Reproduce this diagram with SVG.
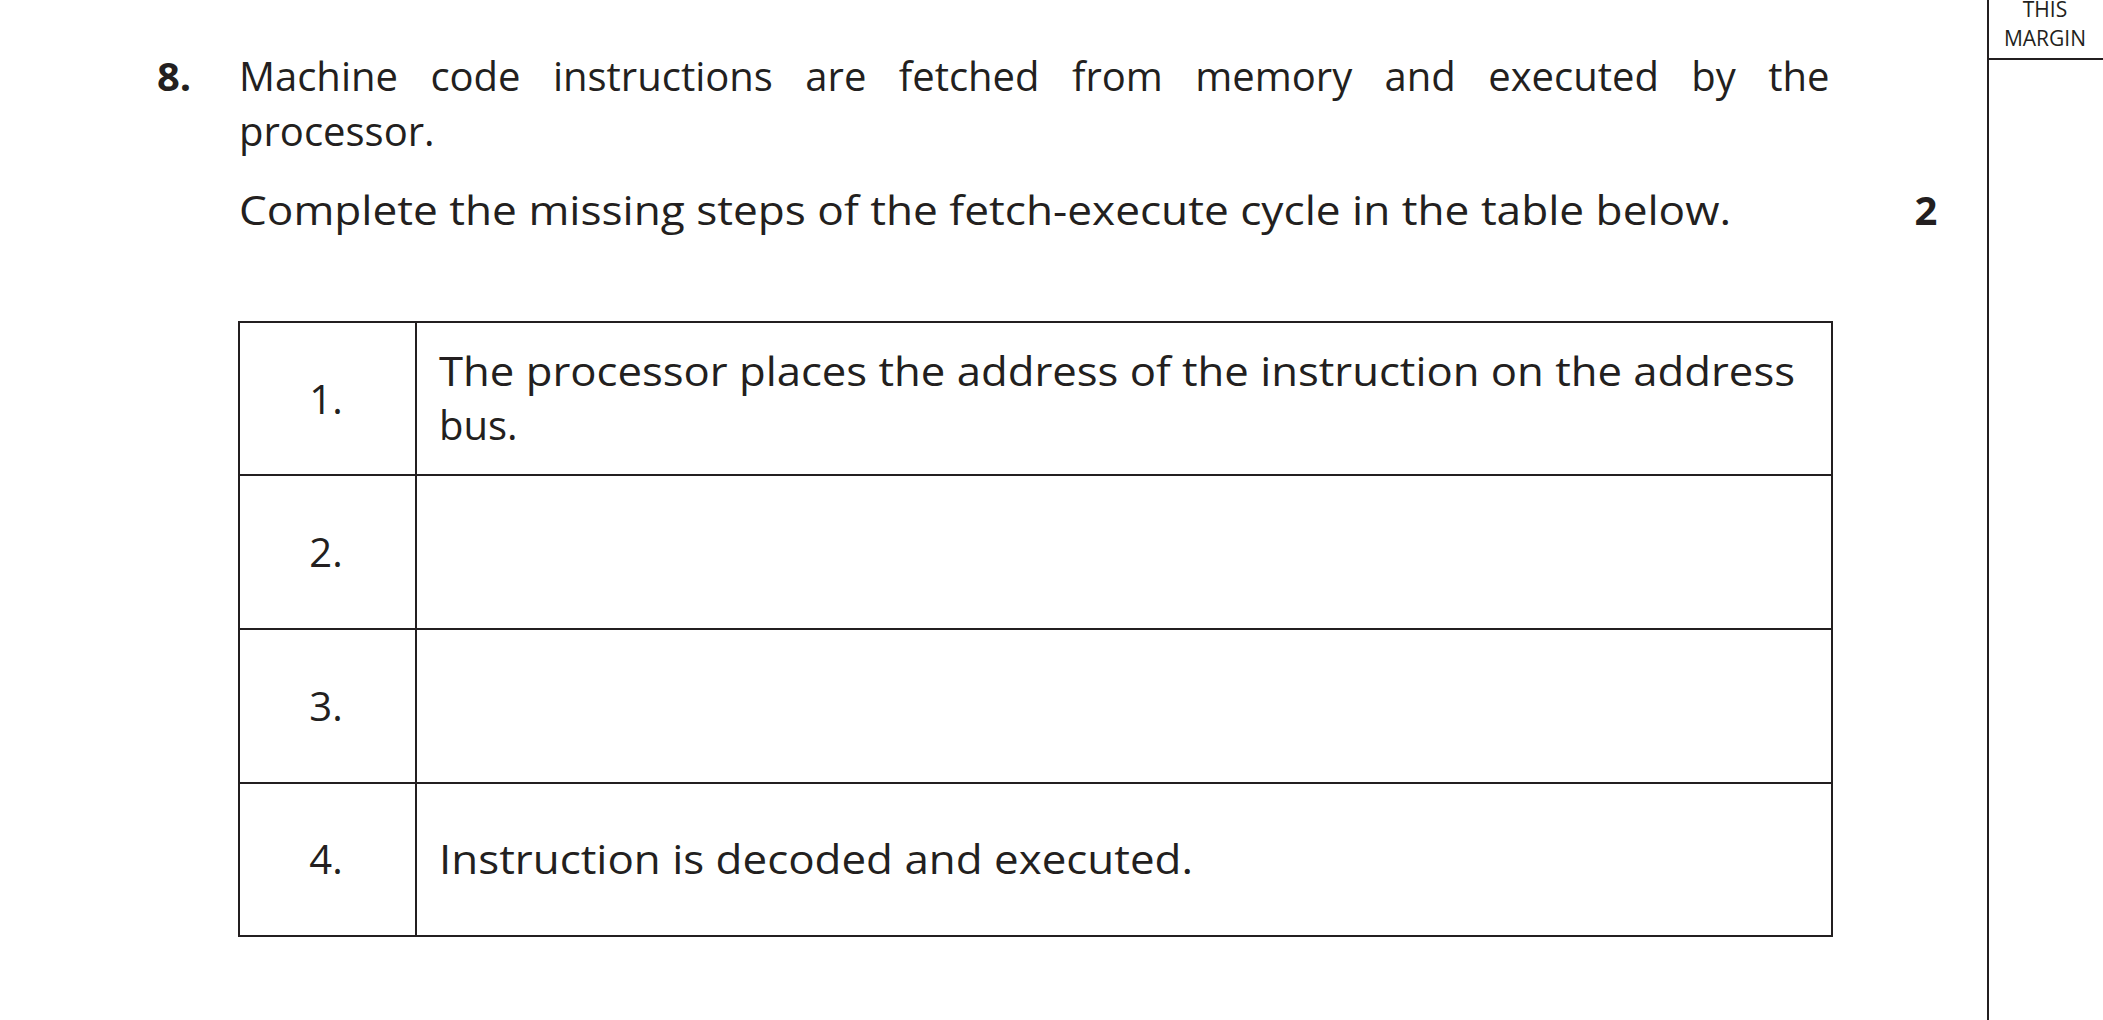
<svg xmlns="http://www.w3.org/2000/svg" width="2103" height="1020" viewBox="0 0 2103 1020">
<style>
text{font-family:"Open Sans","DejaVu Sans",sans-serif;fill:#231f20;font-size:40px}
.b{font-weight:bold}
.s{font-size:21px}
.c{text-anchor:middle}
.ln{stroke:#231f20;stroke-width:2;fill:none}
</style>
<rect x="0" y="0" width="2103" height="1020" fill="#fff"/>
<g id="margin">
<line class="ln" x1="1988" y1="0" x2="1988" y2="1020"/>
<line class="ln" x1="1988" y1="59" x2="2103" y2="59"/>
<text class="s c" x="2045" y="17">THIS</text>
<text class="s c" x="2045" y="46">MARGIN</text>
</g>
<g id="question">
<text class="b" x="157" y="91">8.</text>
<text x="239" y="91" word-spacing="22">Machine code instructions are fetched from memory and executed by the</text>
<text x="239" y="146">processor.</text>
<text x="239" y="225" textLength="1492" lengthAdjust="spacingAndGlyphs">Complete the missing steps of the fetch-execute cycle in the table below.</text>
<text class="b c" x="1926" y="225">2</text>
</g>
<g id="table">
<rect class="ln" x="239" y="322" width="1593" height="614"/>
<line class="ln" x1="416" y1="322" x2="416" y2="936"/>
<line class="ln" x1="239" y1="475" x2="1832" y2="475"/>
<line class="ln" x1="239" y1="629" x2="1832" y2="629"/>
<line class="ln" x1="239" y1="783" x2="1832" y2="783"/>
<text class="c" x="326" y="414">1.</text>
<text class="c" x="326" y="567">2.</text>
<text class="c" x="326" y="721">3.</text>
<text class="c" x="326" y="874">4.</text>
<text x="439" y="386" textLength="1356" lengthAdjust="spacingAndGlyphs">The processor places the address of the instruction on the address</text>
<text x="439" y="440">bus.</text>
<text x="439" y="874" textLength="754" lengthAdjust="spacingAndGlyphs">Instruction is decoded and executed.</text>
</g>
</svg>
